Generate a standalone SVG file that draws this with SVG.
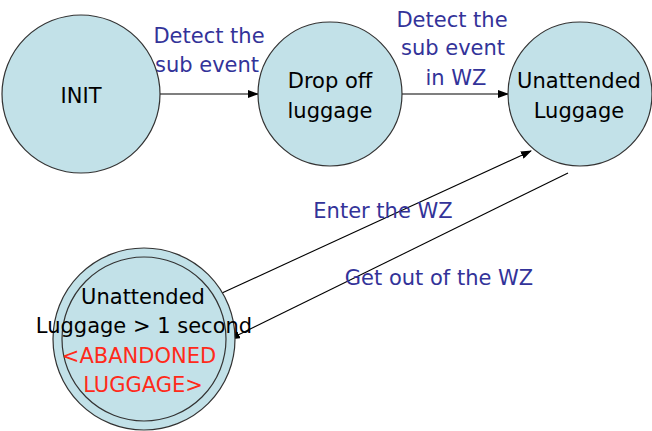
<svg xmlns="http://www.w3.org/2000/svg" width="652" height="431" viewBox="0 0 652 431">
<style>
.st{fill:#c2e1e8;stroke:#333;stroke-width:1.2}
.lbl{font-family:"DejaVu Sans",Tahoma,sans-serif;font-size:21px;fill:#000;text-anchor:middle}
.ev{font-family:"DejaVu Sans",Tahoma,sans-serif;font-size:21px;fill:#333399;text-anchor:middle}
.red{fill:#ff2a1a}
.c{stroke:#000;stroke-width:1.1;fill:none;marker-end:url(#ah)}
</style>
<defs>
<marker id="ah" markerWidth="11" markerHeight="8" refX="10" refY="4" orient="auto" markerUnits="userSpaceOnUse">
<path d="M0,0 L11,4 L0,8 z" fill="#000"/>
</marker>
</defs>
<rect width="652" height="431" fill="#fff"/>
<g id="connectors">
<line class="c" x1="160" y1="94" x2="258" y2="94"/>
<line class="c" x1="402" y1="94" x2="508" y2="94"/>
<line class="c" x1="222" y1="293" x2="531" y2="151"/>
<line class="c" x1="568" y1="173" x2="230" y2="339"/>
</g>
<g id="labels">
<text class="ev" x="209" y="43">Detect the</text>
<text class="ev" x="207" y="72">sub event</text>
<text class="ev" x="452" y="27">Detect the</text>
<text class="ev" x="453" y="55">sub event</text>
<text class="ev" x="456" y="85">in WZ</text>
<text class="ev" x="383" y="218">Enter the WZ</text>
<text class="ev" x="439" y="285">Get out of the WZ</text>
</g>
<g id="init">
<circle class="st" cx="81" cy="94" r="79"/>
<text class="lbl" x="81" y="103">INIT</text>
</g>
<g id="dropoff">
<circle class="st" cx="330" cy="94" r="72"/>
<text class="lbl" x="330" y="88">Drop off</text>
<text class="lbl" x="330" y="118">luggage</text>
</g>
<g id="unattended">
<circle class="st" cx="580" cy="94" r="72"/>
<text class="lbl" x="579" y="88">Unattended</text>
<text class="lbl" x="579" y="118">Luggage</text>
</g>
<g id="abandoned">
<circle class="st" cx="144" cy="339" r="91"/>
<circle class="st" cx="144" cy="339" r="82"/>
<text class="lbl" x="143" y="304">Unattended</text>
<text class="lbl" x="144" y="333">Luggage &gt; 1 second</text>
<text class="lbl red" x="139" y="363">&lt;ABANDONED</text>
<text class="lbl red" x="143" y="392">LUGGAGE&gt;</text>
</g>
</svg>
